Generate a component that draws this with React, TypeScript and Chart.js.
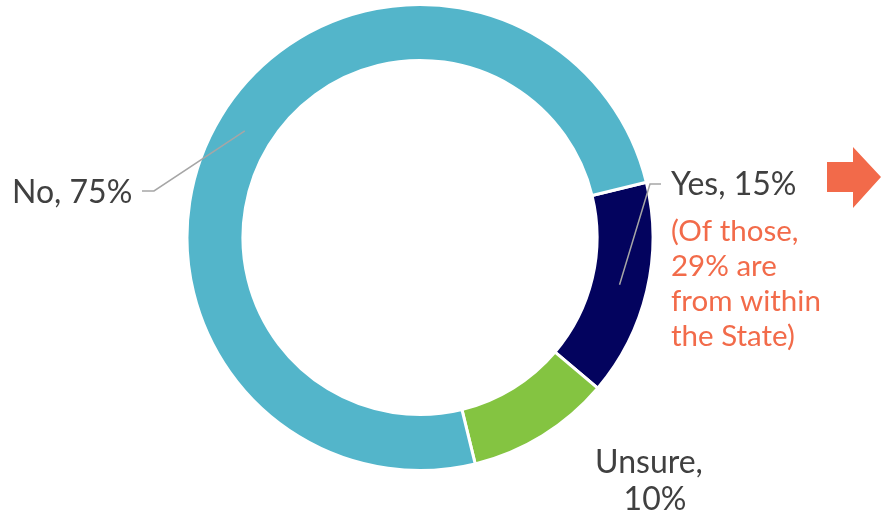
import React, { useEffect, useRef } from "react";
import { Chart, registerables } from "chart.js";

Chart.register(...registerables);

const categories = ["Yes", "Unsure", "No"];
const values = [15, 10, 75];
const sliceColors = ["#03035E", "#84C441", "#53B5CA"];
const noteLines = ["(Of those,", "29% are", "from within", "the State)"];

const FONT = "Lato, 'Open Sans', sans-serif";
const GREY = "#404040";
const ORANGE = "#F26B4A";
const LEADER = "#A6A6A6";

const labelPlugin = {
  id: "donutLabels",
  afterDraw(chart: any) {
    const ctx = chart.ctx as CanvasRenderingContext2D;
    const meta = chart.getDatasetMeta(0);
    const arcs = meta.data;
    ctx.save();
    ctx.strokeStyle = LEADER;
    ctx.lineWidth = 1.5;
    const lineFrom = (arc: any, frac: number) => {
      const p = arc.getProps(["x", "y", "startAngle", "endAngle", "innerRadius", "outerRadius"], true);
      const a = p.startAngle + (p.endAngle - p.startAngle) * frac;
      const r = (p.innerRadius + p.outerRadius) / 2;
      return [p.x + Math.cos(a) * r, p.y + Math.sin(a) * r];
    };
    const [nx, ny] = lineFrom(arcs[2], 0.5);
    ctx.beginPath();
    ctx.moveTo(142, 191);
    ctx.lineTo(154, 191);
    ctx.lineTo(nx, ny);
    ctx.stroke();
    const [yx, yy] = lineFrom(arcs[0], 0.5);
    ctx.beginPath();
    ctx.moveTo(661, 184);
    ctx.lineTo(650, 184);
    ctx.lineTo(yx, yy);
    ctx.stroke();

    ctx.font = `32px ${FONT}`;
    ctx.fillStyle = GREY;
    ctx.textBaseline = "alphabetic";
    ctx.textAlign = "left";
    ctx.fillText(`${categories[2]}, ${values[2]}%`, 12, 203);
    ctx.fillText(`${categories[0]}, ${values[0]}%`, 671, 195);
    ctx.textAlign = "center";
    ctx.fillText(`${categories[1]},`, 649, 473);
    ctx.fillText(`${values[1]}%`, 655, 510);

    ctx.textAlign = "left";
    ctx.fillStyle = ORANGE;
    ctx.font = `29.5px ${FONT}`;
    noteLines.forEach((t, i) => ctx.fillText(t, 671, 241 + i * 35));

    ctx.fillStyle = "#F26A4A";
    ctx.beginPath();
    ctx.moveTo(827, 162);
    ctx.lineTo(853, 162);
    ctx.lineTo(853, 147);
    ctx.lineTo(881, 177);
    ctx.lineTo(853, 208);
    ctx.lineTo(853, 192);
    ctx.lineTo(827, 192);
    ctx.closePath();
    ctx.fill();
    ctx.restore();
  },
};

export default function App() {
  const ref = useRef<HTMLCanvasElement | null>(null);
  useEffect(() => {
    if (!ref.current) return;
    const chart = new Chart(ref.current, {
      type: "doughnut",
      data: {
        labels: categories,
        datasets: [
          {
            data: values,
            backgroundColor: sliceColors,
            borderColor: "#FFFFFF",
            borderWidth: 3,
          },
        ],
      },
      options: {
        responsive: false,
        animation: false,
        cutout: "76%",
        rotation: 76.3,
        layout: { padding: { left: 185.5, top: 3, right: 226.5, bottom: 45 } },
        plugins: {
          legend: { display: false },
          tooltip: { enabled: false },
        },
      },
      plugins: [labelPlugin],
    });
    return () => chart.destroy();
  }, []);
  return (
    <div style={{ position: "fixed", left: 0, top: 0, width: 881, height: 517, background: "#fff" }}>
      <canvas ref={ref} width={881} height={517} />
    </div>
  );
}
